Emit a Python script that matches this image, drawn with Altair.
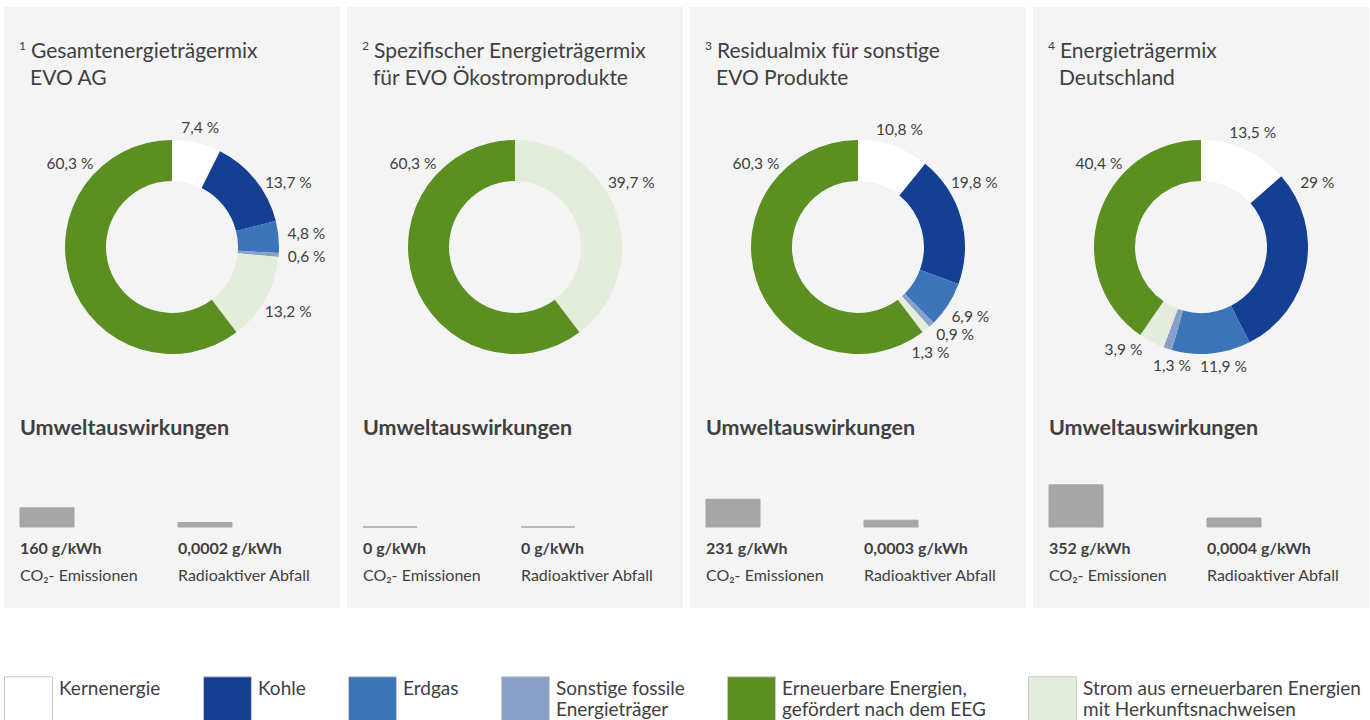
import math
import altair as alt
import pandas as pd

# ---------------- data ----------------
# categories in clockwise slice order (from 12 o'clock)
categories = [
    "Kernenergie",
    "Kohle",
    "Erdgas",
    "Sonstige fossile|Energieträger",
    "Strom aus erneuerbaren Energien|mit Herkunftsnachweisen",
    "Erneuerbare Energien,|gefördert nach dem EEG",
]
cat_colors = ["#ffffff", "#143f93", "#3b74b9", "#889fca", "#e4eddc", "#5b8f21"]
legend_order = [0, 1, 2, 3, 5, 4]

title_sup = ["1", "2", "3", "4"]
title_line1 = ["Gesamtenergieträgermix", "Spezifischer Energieträgermix",
               "Residualmix für sonstige", "Energieträgermix"]
title_line2 = ["EVO AG", "für EVO Ökostromprodukte", "EVO Produkte", "Deutschland"]

mix_1 = [7.4, 13.7, 4.8, 0.6, 13.2, 60.3]
mix_2 = [0, 0, 0, 0, 39.7, 60.3]
mix_3 = [10.8, 19.8, 6.9, 0.9, 1.3, 60.3]
mix_4 = [13.5, 29.0, 11.9, 1.3, 3.9, 40.4]
mixes = [mix_1, mix_2, mix_3, mix_4]

co2_values = [160, 0, 231, 352]
co2_labels = ["160 g/kWh", "0 g/kWh", "231 g/kWh", "352 g/kWh"]
waste_values = [0.0002, 0, 0.0003, 0.0004]
waste_labels = ["0,0002 g/kWh", "0 g/kWh", "0,0003 g/kWh", "0,0004 g/kWh"]
impact_names = ["CO₂- Emissionen", "Radioaktiver Abfall"]
section_title = "Umweltauswirkungen"

# ---------------- style ----------------
FONT = "Lato"
TEXT = "#404040"
BAR = "#a6a6a6"
PANEL_BG = "#f4f4f4"
PW, PH = 336, 601
CX, CY = 168, 240
R_IN, R_OUT = 66, 107

legend_domain = [categories[i] for i in legend_order]
legend_range = [cat_colors[i] for i in legend_order]
color_scale = alt.Scale(domain=legend_domain, range=legend_range)
theta_scale = alt.Scale(domain=[0, 100])


def fmt_pct(v):
    return f"{v:g}".replace(".", ",") + " %"


def label_frame(values):
    rows = []
    start = 0.0
    for i, v in enumerate(values):
        a0, a1 = start * 3.6, (start + v) * 3.6
        start += v
        if v <= 0:
            continue
        ang = (a0 + a1) / 2
        for pref in (61.0, 309.0):
            if a0 < pref < a1:
                ang = pref
        rows.append({"cat": categories[i], "ang": ang, "txt": fmt_pct(v)})

    def pos(r):
        rad = math.radians(r["ang"])
        rr = 119 + 16 * abs(math.sin(rad))
        return rr * math.sin(rad), -rr * math.cos(rad), rr

    def width(t):
        return 7.8 * len(t)

    for _ in range(400):
        moved = False
        for a, b in zip(rows, rows[1:]):
            xa, ya, _ = pos(a)
            xb, yb, _ = pos(b)
            if abs(xa - xb) < (width(a["txt"]) + width(b["txt"])) / 2 + 8 and abs(ya - yb) < 17:
                a["ang"] -= 0.5
                b["ang"] += 0.5
                moved = True
        if not moved:
            break
    for r in rows:
        r["r"] = pos(r)[2]
        r["pos"] = r["ang"] / 3.6
    return pd.DataFrame(rows)


def panel(k):
    values = mixes[k]
    slices = pd.DataFrame({"cat": categories, "value": values, "order": list(range(len(categories)))})
    slices = slices[slices["value"] > 0]

    arcs = alt.Chart(slices).mark_arc(innerRadius=R_IN, outerRadius=R_OUT).encode(
        theta=alt.Theta("value:Q", stack=True, scale=theta_scale),
        color=alt.Color(
            "cat:N", scale=color_scale,
            legend=alt.Legend(
                title=None, orient="bottom", direction="horizontal",
                symbolType="M-1,-0.545H1.18V1.45H-1Z", symbolSize=1936,
                symbolStrokeColor="#c8c8c8", symbolStrokeWidth=1, symbolOpacity=1,
                labelFont=FONT, labelFontSize=19, labelColor=TEXT,
                labelExpr="split(datum.label, '|')",
                labelLimit=500, labelOffset=10, columnPadding=40, offset=58, padding=0,
            ),
        ),
        order=alt.Order("order:Q"),
        x=alt.value(CX), y=alt.value(CY),
    )

    labs = alt.Chart(label_frame(values)).mark_text(
        font=FONT, fontSize=15.5, color=TEXT, align="center", baseline="middle"
    ).encode(
        theta=alt.Theta("pos:Q", stack=False, scale=theta_scale),
        radius=alt.Radius("r:Q", scale=None),
        text="txt:N",
        x=alt.value(CX), y=alt.value(CY),
    )

    head = pd.DataFrame({"sup": [title_sup[k]], "l1": [title_line1[k]],
                         "l2": [title_line2[k]], "sec": [section_title]})
    base_t = alt.Chart(head)
    sup = base_t.mark_text(font=FONT, fontSize=12, color=TEXT, align="left", baseline="alphabetic").encode(
        text="sup:N", x=alt.value(15), y=alt.value(43))
    l1 = base_t.mark_text(font=FONT, fontSize=21, color=TEXT, align="left", baseline="alphabetic").encode(
        text="l1:N", x=alt.value(27), y=alt.value(51))
    l2 = base_t.mark_text(font=FONT, fontSize=21, color=TEXT, align="left", baseline="alphabetic").encode(
        text="l2:N", x=alt.value(26), y=alt.value(78))
    sec = base_t.mark_text(font=FONT, fontSize=21.5, fontWeight="bold", color=TEXT, align="left",
                           baseline="alphabetic").encode(text="sec:N", x=alt.value(16), y=alt.value(428))

    impacts = pd.DataFrame({
        "kind": ["co2", "waste"],
        "v": [co2_values[k], waste_values[k]],
        "lab": [co2_labels[k], waste_labels[k]],
        "name": impact_names,
    })
    xband = alt.Scale(domain=["co2", "waste"], range=[16, 228], paddingInner=0.658, paddingOuter=0)
    base_i = alt.Chart(impacts)
    co2_bar = base_i.transform_filter(alt.datum.kind == "co2").mark_bar(
        color=BAR, stroke=BAR, strokeWidth=1).encode(
        x=alt.X("kind:N", scale=xband, axis=None),
        y=alt.Y("v:Q", scale=alt.Scale(domain=[0, 1000], range=[520, 400]), axis=None),
    )
    waste_bar = base_i.transform_filter(alt.datum.kind == "waste").mark_bar(
        color=BAR, stroke=BAR, strokeWidth=1).encode(
        x=alt.X("kind:N", scale=xband, axis=None),
        y=alt.Y("v:Q", scale=alt.Scale(domain=[0, 0.0004 * 120 / 9], range=[520, 400]), axis=None),
    )
    val_txt = base_i.mark_text(font=FONT, fontSize=16, fontWeight="bold", color=TEXT, align="left",
                               baseline="alphabetic").encode(
        x=alt.X("kind:N", scale=xband, axis=None, bandPosition=0), y=alt.value(547), text="lab:N")
    name_txt = base_i.mark_text(font=FONT, fontSize=16, color=TEXT, align="left",
                                baseline="alphabetic").encode(
        x=alt.X("kind:N", scale=xband, axis=None, bandPosition=0), y=alt.value(574), text="name:N")

    return alt.layer(arcs, labs, sup, l1, l2, sec, co2_bar, waste_bar, val_txt, name_txt).resolve_scale(
        y="independent"
    ).properties(width=PW, height=PH)


chart = alt.hconcat(*[panel(k) for k in range(4)], spacing=7).resolve_scale(
    color="shared", x="independent", y="independent", theta="independent"
).properties(
    padding={"left": 4, "top": 7, "right": 0, "bottom": 0}
).configure(font=FONT).configure_view(fill=PANEL_BG, strokeWidth=0)

chart.save("out.html", embed_options={"renderer": "svg", "actions": False})
